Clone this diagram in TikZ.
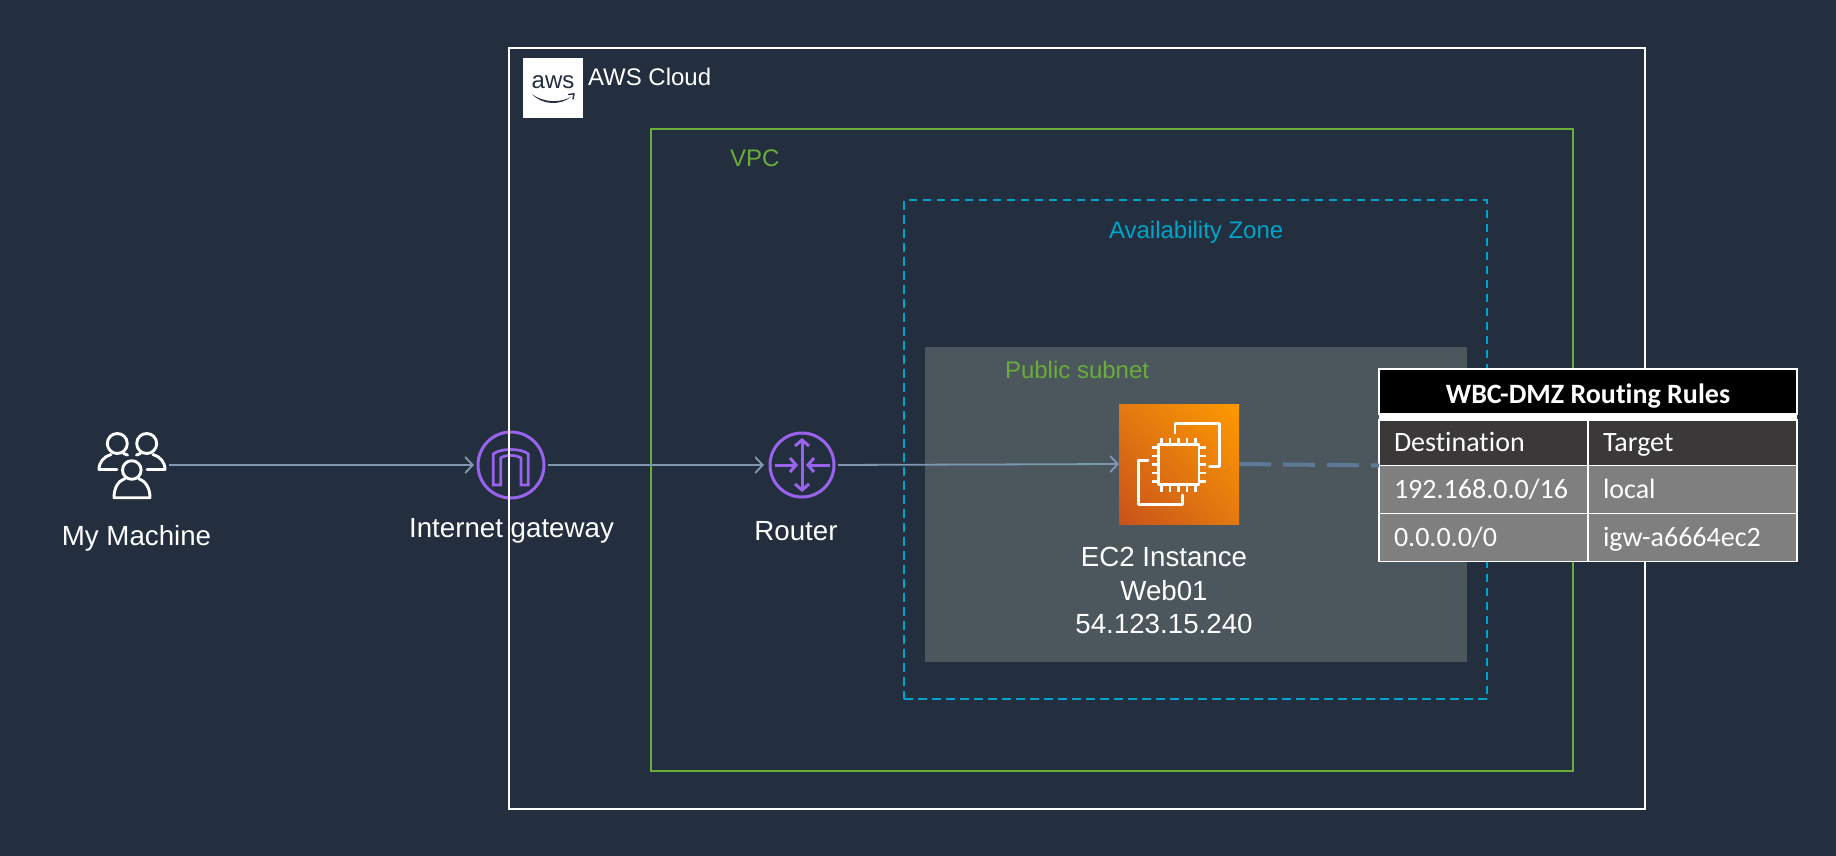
\documentclass[tikz,border=0pt]{standalone}
\usepackage{fontspec}
\setmainfont{Liberation Sans}
\newfontfamily\calib[Ligatures=NoCommon]{Carlito}
\usetikzlibrary{arrows.meta,shadings}
\definecolor{bgc}{HTML}{232F3E}
\definecolor{subnetc}{HTML}{4B575D}
\definecolor{greenc}{HTML}{6AAD3B}
\definecolor{tealc}{HTML}{00A4CA}
\definecolor{purplec}{HTML}{9A63EE}
\definecolor{connc}{HTML}{7F97B1}
\definecolor{dashc}{HTML}{5F7896}
\definecolor{darkcell}{HTML}{3A3838}
\definecolor{greycell}{HTML}{7F7F7F}
\definecolor{ecA}{HTML}{C8511B}
\definecolor{ecB}{HTML}{FF9900}
\definecolor{ecM}{HTML}{E37A10}
\tikzset{
  lab/.style={inner sep=0,outer sep=0,anchor=base,font=\fontsize{27.7}{30}\selectfont,text=white},
  zonelab/.style={inner sep=0,outer sep=0,anchor=base west,font=\fontsize{24}{26}\selectfont},
  cell/.style={draw=white,line width=1.5pt,anchor=north west,inner sep=0,outer sep=0},
  celltext/.style={inner sep=0,outer sep=0,anchor=base west,text=white,font=\calib\fontsize{28}{30}\selectfont},
  conn/.style={draw=connc,line width=1.8pt,-{Straight Barb[length=7.5pt,width=16pt,line width=1.9pt]}},
  purp/.style={draw=purplec,line width=3pt},
  wicon/.style={draw=white,line width=2.9pt,line join=round,line cap=round},
  tinyarrow/.style={purp,-{Straight Barb[length=6pt,width=14pt,line width=3pt]}},
}
\begin{document}
\begin{tikzpicture}[x=1pt,y=-1pt]
\useasboundingbox (0,0) rectangle (1836,856);
\fill[bgc] (0,0) rectangle (1836,856);

% Internet gateway icon (lies under the AWS Cloud frame)
\node[circle,purp,minimum size=66pt,inner sep=0,outer sep=0] (igw) at (511,465) {};
\draw[purp,line width=2.7pt,line join=miter] (493.3,485) -- (493.3,454) .. controls (500,448) and (522,448) .. (528.3,454) -- (528.3,485) -- (521,485) -- (521,458) .. controls (516,454.5) and (505,454.5) .. (500.7,458) -- (500.7,485) -- cycle;

% Frames
\fill[subnetc] (925,347) rectangle (1467,662);
\node[draw=white,line width=2pt,minimum width=1136pt,minimum height=761pt,inner sep=0,outer sep=0,anchor=north west] (cloud) at (509,48) {};
\node[draw=greenc,line width=2pt,minimum width=922pt,minimum height=641.5pt,inner sep=0,outer sep=0,anchor=north west] (vpc) at (651,129) {};
\node[draw=tealc,line width=1.7pt,dash pattern=on 8.5pt off 5.5pt,minimum width=583pt,minimum height=499pt,inner sep=0,outer sep=0,anchor=north west] (az) at (904,200) {};

% AWS logo
\node[fill=white,minimum size=60pt,inner sep=0,outer sep=0,anchor=north west] (logo) at (523,58) {};
\node[inner sep=0,outer sep=0,anchor=base,text=bgc,font=\fontsize{24}{26}\selectfont] (awstxt) at (553,88.5) {aws};
\fill[bgc] (532,94.3) .. controls (544,103) and (561,103) .. (571.5,96.5) .. controls (561,105.5) and (543,105.5) .. (532,94.3) -- cycle;
\draw[bgc,line width=1.4pt,line cap=round,line join=round] (568.5,94.5) -- (574,93.8) -- (573,99);

\node[zonelab,text=white] (cloudlab) at (588,85.5) {AWS Cloud};
\node[zonelab,text=greenc] (vpclab) at (730,166) {VPC};
\node[zonelab,text=tealc] (azlab) at (1109,238) {Availability Zone};
\node[zonelab,text=greenc] (subnetlab) at (1005,378) {Public subnet};

% Users icon
\node[minimum width=66pt,minimum height=66pt,inner sep=0,outer sep=0] (users) at (132,465) {};
\draw[wicon] (117.3,443.5) circle (10);
\draw[wicon] (146.7,443.5) circle (10);
\draw[wicon] (131.8,470) circle (9.3);
\draw[wicon] (111,454.5) .. controls (104,456.5) and (99,462) .. (99,469.5) -- (117,469.5);
\draw[wicon] (123.5,453.5) -- (127.5,455);
\draw[wicon] (153,454.5) .. controls (160,456.5) and (165,462) .. (165,469.5) -- (147,469.5);
\draw[wicon] (140.5,453.5) -- (136.5,455);
\draw[wicon] (125,478.5) .. controls (118,481) and (114,488) .. (114,497.7) -- (150,497.7) .. controls (150,488) and (145.5,481) .. (138.5,478.5);

% Router icon
\node[circle,purp,minimum size=64pt,inner sep=0,outer sep=0] (router) at (802,465) {};
\draw[purp,{Straight Barb[length=6pt,width=14pt,line width=3pt]}-{Straight Barb[length=6pt,width=14pt,line width=3pt]}] (802,438) -- (802,492);
\draw[tinyarrow] (774.5,465) -- (798,465);
\draw[tinyarrow] (830,465) -- (806,465);

% EC2 icon
\node[minimum size=120pt,inner sep=0,outer sep=0,lower left=ecA,upper right=ecB,upper left=ecM,lower right=ecM] (ec2) at (1179,464) {};
\draw[wicon] (1175,433) -- (1175,423.3) -- (1219.3,423.3) -- (1219.3,466.7) -- (1209.5,466.7);
\draw[wicon] (1148,460.7) -- (1138.3,460.7) -- (1138.3,504.3) -- (1182.3,504.3) -- (1182.3,495);
\draw[wicon] (1158.5,444.3) rectangle (1199,484.3);
\foreach \px in {1161.5,1170,1178.5,1187,1195.5} {
  \draw[wicon,line cap=butt] (\px,437.5) -- (\px,444.3);
  \draw[wicon,line cap=butt] (\px,484.3) -- (\px,491.5);
}
\foreach \py in {447.7,456,464.3,473,481.5} {
  \draw[wicon,line cap=butt] (1151.7,\py) -- (1158.5,\py);
  \draw[wicon,line cap=butt] (1199,\py) -- (1206,\py);
}

% Labels
\node[lab] (userlab) at (136.5,545) {My Machine};
\node[lab] (igwlab) at (511.5,537) {Internet gateway};
\node[lab] (routerlab) at (796,540) {Router};
\node[lab] (ec2a) at (1164,566) {EC2 Instance};
\node[lab] (ec2b) at (1164,600) {Web01};
\node[lab] (ec2c) at (1164,633) {54.123.15.240};

% Routing table
\node[cell,fill=black,minimum width=418pt,minimum height=45pt] (ttitle) at (1379,369) {};
\node[fill=white,inner sep=0,outer sep=0,minimum width=418pt,minimum height=6pt,anchor=north west] (tband) at (1379,414) {};
\node[cell,fill=darkcell,minimum width=209pt,minimum height=45.5pt] (c11) at (1379,420) {};
\node[cell,fill=darkcell,minimum width=209pt,minimum height=45.5pt] (c12) at (1588,420) {};
\node[cell,fill=greycell,minimum width=209pt,minimum height=48pt] (c21) at (1379,465.5) {};
\node[cell,fill=greycell,minimum width=209pt,minimum height=48pt] (c22) at (1588,465.5) {};
\node[cell,fill=greycell,minimum width=209pt,minimum height=48pt] (c31) at (1379,513.5) {};
\node[cell,fill=greycell,minimum width=209pt,minimum height=48pt] (c32) at (1588,513.5) {};
\node[inner sep=0,outer sep=0,anchor=base,text=white,font=\calib\bfseries\fontsize{28}{30}\selectfont] (ttext) at (1588,403.5) {WBC-DMZ Routing Rules};
\node[celltext] at (1394,451) {Destination};
\node[celltext] at (1603,451) {Target};
\node[celltext] at (1394,498) {192.168.0.0/16};
\node[celltext] at (1603,498) {local};
\node[celltext] at (1394,546.5) {0.0.0.0/0};
\node[celltext] at (1603,546.5) {igw-a6664ec2};

% Connectors
\draw[conn,shorten <=4pt,shorten >=4pt] (users.east) -- (igw.west);
\draw[conn,shorten <=3.5pt,shorten >=6pt] (igw.east) -- (router.west);
\draw[conn,shorten <=4pt] (router.east) -- (ec2.west);
\draw[dashc,line width=4pt,dash pattern=on 32pt off 12pt] (ec2.east) -- (c11.south west);
\end{tikzpicture}
\end{document}
